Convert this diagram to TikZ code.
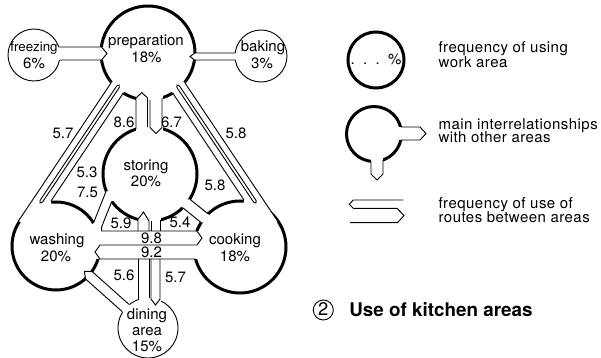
\documentclass[tikz,border=0pt]{standalone}
\usepackage{fontspec}
\setmainfont{TeX Gyre Heros}
\newfontfamily\lgdfont{TeX Gyre Heros}[LetterSpace=3]
\begin{document}
\begin{tikzpicture}[x=0.6pt,y=-0.6pt,
  thickarc/.style={line width=1.8pt, draw=black, fill=white},
  thinarc/.style={line width=0.55pt, draw=black, fill=white},
  route/.style={line width=0.55pt, line join=miter},
  erase/.style={fill=white, draw=none},
  lbl/.style={font=\fontsize{9}{9}\selectfont, inner sep=0pt, anchor=base},
  lgd/.style={font=\lgdfont\fontsize{9}{9}\selectfont, inner sep=0pt, anchor=base west},
  ttl/.style={font=\fontsize{11.3}{11.3}\selectfont\bfseries, inner sep=0pt, anchor=base west}]
\useasboundingbox (0,0) rectangle (601,358);
\fill[white] (0,0) rectangle (601,358);
% ---------- areas ----------
\draw[thickarc] (148,53) circle[radius=47];   % preparation
\draw[thickarc] (150,174) circle[radius=47];  % storing
\draw[thickarc] (56,246) circle[radius=44];   % washing
\draw[thickarc] (240,247) circle[radius=46];  % cooking
\draw[thinarc] (34,55) circle[radius=26];     % freezing
\draw[thinarc] (261,56) circle[radius=26];    % baking
\draw[thinarc] (148,328) circle[radius=30];   % dining
% ---------- openings ----------
\fill[erase] (111,83) -- (18.5,220.9) -- (56,246) -- (51,201) -- (123.3,93) -- (148,53) -- cycle;
\fill[erase] (185,83) -- (277.9,221.6) -- (240,247) -- (244,200) -- (172.7,93) -- (148,53) -- cycle;
\fill[erase] (135.5,95) rectangle (162.5,131);
\fill[erase] (137.5,215) rectangle (160.5,231);
\fill[erase] (137.5,259) rectangle (160.5,304);
\fill[erase] (88,231) rectangle (206,259);
\fill[erase] (50,47) rectangle (103.5,60);
\fill[erase] (192.5,53) rectangle (245,60);
\fill[erase] (92.2,271.6) -- (84.4,271.3) -- (85.6,279) -- (126.8,315.7) -- (133.4,308.3) -- cycle;
\fill[erase] (190,199.3) -- (207.8,213.7) -- (215,222) -- (200.8,222.3) -- (183,207.9) -- (175,200) -- cycle;
\fill[erase] (106.2,191) -- (93.5,223) -- (85,232) -- (101.6,232) -- (101.6,227) -- (111.8,201.4) -- (125,195) -- cycle;
% ---------- routes ----------
\draw[route] (18.5,220.9) -- (111,83);
\draw[route] (51,201) -- (123.3,93);
\draw[route] (119.2,85) -- (119.3,87.5) -- (42.5,202.1) -- (40.1,203) -- (40.0,200.5) -- (116.8,85.8) -- cycle;
\draw[route] (185,83) -- (277.9,221.6);
\draw[route] (172.7,93) -- (244,200);
\draw[route] (177,85) -- (179.4,85.9) -- (256.1,200.5) -- (256,203) -- (253.6,202.1) -- (176.9,87.5) -- cycle;
\draw[route] (136,129.1) -- (136,98) -- (141.75,92.5) -- (147.5,98) -- (147.5,127.1);
\draw[route] (150,100) -- (150,127.5) -- (156,133.5) -- (162,127.5) -- (162,97.9);
\draw[route] (138,231) -- (138,219.4) -- (143.5,212) -- (149,221) -- (149,231);
\draw[route] (151,221) -- (151,231);
\draw[route] (160,219.9) -- (160,231);
\draw[route] (138,259) -- (138,299.7);
\draw[route] (149,259) -- (149,298);
\draw[route] (151,259) -- (151,299) -- (155.5,305) -- (160,299) -- (160,259);
\draw[route] (101.6,231) -- (196.9,231) -- (202,238) -- (197,245) -- (100,245) -- (95,252) -- (100,259) -- (195.6,259);
\draw[route] (58.7,47) -- (101.5,47) -- (107,53.5) -- (101.5,60) -- (59.5,60);
\draw[route] (235.2,53) -- (195,53) -- (190,56.5) -- (194.5,60) -- (235.3,60);
\draw[route] (128.9,304.3) -- (92.2,271.6) -- (84.4,271.3) -- (85.6,279) -- (122.3,311.7);
\draw[route] (106.2,191) -- (93.5,223);
\draw[route] (111.8,201.4) -- (101.6,227) -- (101.6,231);
\draw[route] (190,199.3) -- (207.8,213.7);
\draw[route] (183,207.9) -- (200.8,222.3);
% ---------- area labels ----------
\node[lbl, font=\fontsize{8}{8}\selectfont] (tfreez) at (34,52) {freezing};
\node[lbl] (tfreezp) at (34,68.5) {6\%};
\node[lbl] (tprep) at (146,45.5) {preparation};
\node[lbl] (tprepp) at (146.5,62.5) {18\%};
\node[lbl] (tbak) at (263,52) {baking};
\node[lbl] (tbakp) at (262,68.5) {3\%};
\node[lbl] (tstor) at (146,170.5) {storing};
\node[lbl] (tstorp) at (146,187) {20\%};
\node[lbl] (twash) at (57,244) {washing};
\node[lbl] (twashp) at (56,261.5) {20\%};
\node[lbl] (tcook) at (235,244) {cooking};
\node[lbl] (tcookp) at (235,261.5) {18\%};
\node[lbl] (tdin) at (147,319) {dining};
\node[lbl] (tarea) at (147,335.5) {area};
\node[lbl] (tdinp) at (147,351.5) {15\%};
% ---------- route numbers ----------
\node[lbl] (n1) at (63,138.5) {5.7};
\node[lbl] (n2) at (124,127) {8.6};
\node[lbl] (n3) at (171.5,127) {6.7};
\node[lbl] (n4) at (236,138.5) {5.8};
\node[lbl] (n5) at (87,177.5) {5.3};
\node[lbl] (n6) at (87.5,197.5) {7.5};
\node[lbl] (n7) at (215,190.5) {5.8};
\node[lbl] (n8) at (121,228) {5.9};
\node[lbl] (n9) at (180,227) {5.4};
\node[lbl] (n10) at (151.5,243.3) {9.8};
\node[lbl] (n11) at (151.5,257.3) {9.2};
\node[lbl] (n12) at (124,280.5) {5.6};
\node[lbl] (n13) at (175.5,282) {5.7};
% ---------- legend ----------
\draw[thickarc] (376,60) circle[radius=28];
\node[lbl] (ldots) at (376,65) {.\ \ .\ \ .\ \ \%};
\node[lgd] (l1a) at (438.3,52.5) {frequency of using};
\node[lgd] (l1b) at (438.3,67.5) {work area};
\draw[thickarc] (374,134) circle[radius=27.5];
\fill[erase] (399,127) rectangle (421,140);
\fill[erase] (371,157.5) rectangle (383,175);
\draw[route] (400.6,127) -- (420,127) -- (426,133.5) -- (420,140) -- (400.8,140);
\draw[route] (371,161.3) -- (371,174) -- (377,180) -- (383,174) -- (383,160);
\node[lgd] (l2a) at (438.3,129) {main interrelationships};
\node[lgd] (l2b) at (438.3,142.5) {with other areas};
\draw[route] (403.3,200) -- (353.3,200) -- (349.3,204.2) -- (353.3,208.3) -- (397,208.3) -- (404,215.5) -- (397.5,222.7) -- (350,222.7);
\node[lgd] (l3a) at (438.3,209) {frequency of use of};
\node[lgd] (l3b) at (438.3,222.5) {routes between areas};
% ---------- title ----------
\draw[line width=0.55pt] (323.3,310) circle[radius=10];
\node[font=\fontsize{11}{11}\selectfont, inner sep=0pt, anchor=base] (tnum) at (323.3,315) {2};
\node[ttl] (title) at (349,316.5) {Use of kitchen areas};
\end{tikzpicture}
\end{document}
